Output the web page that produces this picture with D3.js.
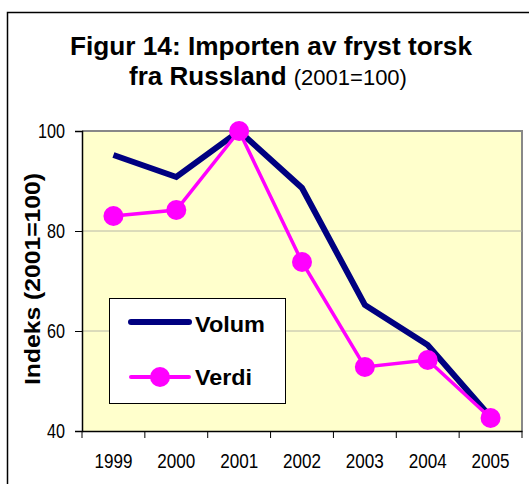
<!DOCTYPE html>
<html>
<script src="https://d3js.org/d3.v7.min.js"></script>

<head>
    <style>
        body {
            margin: 0;
            background-color: #ffffff;
            font-family: "Liberation Sans", Arial, sans-serif;
        }

        svg {
            display: block;
        }
    </style>
</head>

<body>
</body>
<script>
    const years = ["1999", "2000", "2001", "2002", "2003", "2004", "2005"];
    const volum = [95.2, 90.8, 100, 88.6, 65.2, 57.2, 42.8];
    const verdi = [83, 84.2, 100, 73.8, 52.8, 54.2, 42.6];
    const yTicks = [40, 60, 80, 100];

    const width = 529,
        height = 484;
    const svg = d3.select("body").append("svg").attr("width", width).attr("height", height);

    // outer chart frame
    svg.append("rect")
        .attr("x", 7.5).attr("y", 12.5)
        .attr("width", 540).attr("height", 500)
        .attr("fill", "#fff").attr("stroke", "#000").attr("stroke-width", 1.5);

    const plot = { left: 82, right: 522, top: 131, bottom: 431 };

    const x = d3.scaleBand().domain(years).range([plot.left, plot.right]);
    const y = d3.scaleLinear().domain([40, 100]).range([plot.bottom, plot.top]);

    // plot area
    svg.append("rect")
        .attr("x", plot.left).attr("y", plot.top)
        .attr("width", plot.right - plot.left).attr("height", plot.bottom - plot.top)
        .attr("fill", "#ffffcc");
    svg.append("path")
        .attr("d", `M${plot.left},${plot.top}H${plot.right}V${plot.bottom}`)
        .attr("fill", "none").attr("stroke", "#888").attr("stroke-width", 2);

    // gridlines
    svg.selectAll(".grid")
        .data(yTicks.filter(d => d > 40 && d < 100))
        .join("line")
        .attr("x1", plot.left).attr("x2", plot.right)
        .attr("y1", d => y(d)).attr("y2", d => y(d))
        .attr("stroke", "#b8b8a8").attr("stroke-width", 1);

    // y axis
    const yAxis = svg.append("g")
        .attr("transform", `translate(${plot.left},0)`)
        .call(d3.axisLeft(y).tickValues(yTicks).tickSize(7).tickPadding(10));
    yAxis.select(".domain").attr("stroke", "#000").attr("stroke-width", 1.5);
    yAxis.selectAll(".tick line").attr("stroke", "#000");
    yAxis.selectAll("text").style("font-size", "20px").style("font-family", "Liberation Sans")
        .attr("fill", "#000").attr("textLength", d => d === 100 ? 27 : 18)
        .attr("lengthAdjust", "spacingAndGlyphs");

    // x axis, ticks at band edges
    const xAxis = svg.append("g")
        .attr("transform", `translate(0,${plot.bottom})`)
        .call(d3.axisBottom(x).tickSize(0).tickPadding(23));
    xAxis.select(".domain").attr("stroke", "#000").attr("stroke-width", 1.5);
    xAxis.selectAll("text").style("font-size", "20px").style("font-family", "Liberation Sans")
        .attr("fill", "#000").attr("textLength", 38)
        .attr("lengthAdjust", "spacingAndGlyphs");
    xAxis.selectAll(".edge")
        .data(years.concat(["end"]))
        .join("line")
        .attr("x1", (d, i) => plot.left + i * x.bandwidth())
        .attr("x2", (d, i) => plot.left + i * x.bandwidth())
        .attr("y1", 0).attr("y2", 7)
        .attr("stroke", "#000");

    const cx = d => x(d) + x.bandwidth() / 2;
    const line = d3.line().x(d => cx(d.year)).y(d => y(d.v));

    const volumData = years.map((yr, i) => ({ year: yr, v: volum[i] }));
    const verdiData = years.map((yr, i) => ({ year: yr, v: verdi[i] }));

    svg.append("path")
        .datum(volumData)
        .attr("d", line)
        .attr("fill", "none").attr("stroke", "#000080").attr("stroke-width", 6)
        .attr("stroke-linejoin", "miter");

    svg.append("path")
        .datum(verdiData)
        .attr("d", line)
        .attr("fill", "none").attr("stroke", "#ff00ff").attr("stroke-width", 3.5);
    svg.selectAll(".dot")
        .data(verdiData)
        .join("circle")
        .attr("cx", d => cx(d.year)).attr("cy", d => y(d.v))
        .attr("r", 10).attr("fill", "#ff00ff");

    // legend
    const lg = svg.append("g");
    lg.append("rect")
        .attr("x", 109.5).attr("y", 298.5).attr("width", 176).attr("height", 105)
        .attr("fill", "#fff").attr("stroke", "#000").attr("stroke-width", 1);
    lg.append("line")
        .attr("x1", 131).attr("x2", 189).attr("y1", 322).attr("y2", 322)
        .attr("stroke", "#000080").attr("stroke-width", 6).attr("stroke-linecap", "round");
    lg.append("text").attr("x", 195).attr("y", 332)
        .attr("font-size", 22).attr("font-weight", "bold")
        .attr("textLength", 70).attr("lengthAdjust", "spacingAndGlyphs").text("Volum");
    lg.append("line")
        .attr("x1", 131).attr("x2", 189).attr("y1", 377).attr("y2", 377)
        .attr("stroke", "#ff00ff").attr("stroke-width", 4).attr("stroke-linecap", "round");
    lg.append("circle").attr("cx", 160).attr("cy", 377).attr("r", 10).attr("fill", "#ff00ff");
    lg.append("text").attr("x", 195).attr("y", 385)
        .attr("font-size", 22).attr("font-weight", "bold")
        .attr("textLength", 57).attr("lengthAdjust", "spacingAndGlyphs").text("Verdi");

    // title
    svg.append("text")
        .attr("x", 271).attr("y", 55)
        .attr("text-anchor", "middle")
        .attr("font-size", 26).attr("font-weight", "bold")
        .attr("textLength", 402).attr("lengthAdjust", "spacingAndGlyphs")
        .text("Figur 14: Importen av fryst torsk");
    const t2 = svg.append("text")
        .attr("x", 268).attr("y", 85)
        .attr("text-anchor", "middle")
        .attr("font-size", 26);
    t2.append("tspan").attr("font-weight", "bold").text("fra Russland ");
    t2.append("tspan").attr("font-size", 22).text("(2001=100)");

    // y axis title
    svg.append("text")
        .attr("transform", "translate(40,279) rotate(-90)")
        .attr("text-anchor", "middle")
        .attr("font-size", 22).attr("font-weight", "bold")
        .attr("textLength", 212).attr("lengthAdjust", "spacingAndGlyphs")
        .text("Indeks (2001=100)");
</script>

</html>
